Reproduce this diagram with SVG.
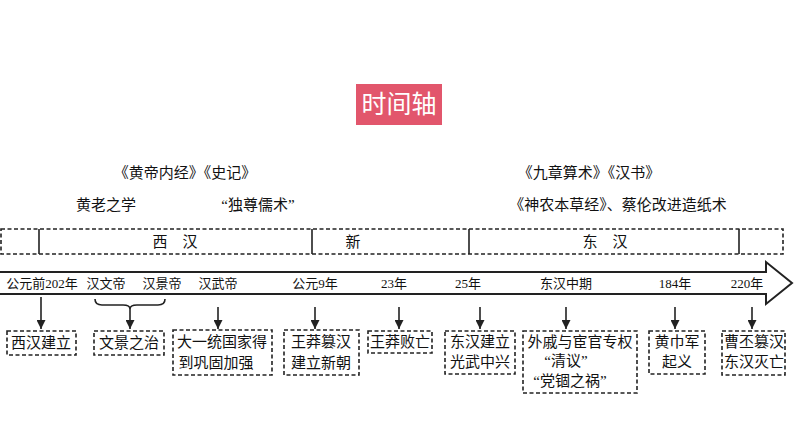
<svg xmlns="http://www.w3.org/2000/svg" width="794" height="447" viewBox="0 0 794 447">
<style>
text{font-family:"Liberation Serif","Noto Sans CJK SC",serif;font-size:15px;fill:#111;text-anchor:middle}
.ax{font-size:13px}
.box{fill:#fff;stroke:#222;stroke-width:1.6;stroke-dasharray:4 2.5}
.ln{stroke:#222;stroke-width:1.6;fill:none}
</style>
<defs>
<marker id="a" viewBox="0 0 10 10" refX="10" refY="5" markerWidth="9" markerHeight="9" orient="auto" markerUnits="userSpaceOnUse"><path d="M0,0 L10,5 L0,10 Z" fill="#222"/></marker></defs>
<rect width="794" height="447" fill="#fff"/>
<g id="title"><rect x="356" y="84" width="86" height="41" fill="#e2566c"/><text x="399" y="113" style="fill:#fff;font-size:25px;font-family:'Noto Sans CJK SC',sans-serif">时间轴</text></g>
<g id="top-texts">
<text x="185" y="178">《黄帝内经》《史记》</text>
<text x="106" y="210">黄老之学</text>
<text x="258" y="210">“独尊儒术”</text>
<text x="589" y="178">《九章算术》《汉书》</text>
<text x="618" y="210">《神农本草经》、蔡伦改进造纸术</text>
</g>
<g id="periods">
<rect class="box" x="1" y="229" width="782" height="25"/>
<path class="ln" d="M39,229V254M312,229V254M469,229V254M739,229V254"/>
<text x="175" y="247">西　汉</text><text x="353" y="247">新</text><text x="605" y="247">东　汉</text>
</g>
<g id="axis">
<path d="M0,272H766V262L792,283L766,304V294H0" fill="#fff" stroke="#222" stroke-width="2"/>
<text class="ax" x="42" y="288">公元前202年</text>
<text class="ax" x="106" y="288">汉文帝</text>
<text class="ax" x="162" y="288">汉景帝</text>
<text class="ax" x="218" y="288">汉武帝</text>
<text class="ax" x="315" y="288">公元9年</text>
<text class="ax" x="394" y="288">23年</text>
<text class="ax" x="468" y="288">25年</text>
<text class="ax" x="566" y="288">东汉中期</text>
<text class="ax" x="675" y="288">184年</text>
<text class="ax" x="747" y="288">220年</text>
</g>
<g id="connectors">
<path class="ln" marker-end="url(#a)" d="M41,297V329"/>
<path class="ln" d="M95,299Q95,305 102,305H123Q130,305 130,309Q130,305 137,305H158Q165,305 165,299"/>
<path class="ln" marker-end="url(#a)" d="M130,309V329"/>
<path class="ln" marker-end="url(#a)" d="M218,307V329"/>
<path class="ln" marker-end="url(#a)" d="M315,307V329"/>
<path class="ln" marker-end="url(#a)" d="M399,307V329"/>
<path class="ln" marker-end="url(#a)" d="M480,307V329"/>
<path class="ln" marker-end="url(#a)" d="M566,307V329"/>
<path class="ln" marker-end="url(#a)" d="M675,307V329"/>
<path class="ln" marker-end="url(#a)" d="M752,307V329"/>
</g>
<g id="n1"><rect class="box" x="7" y="331" width="69" height="24"/><text x="41" y="348">西汉建立</text></g>
<g id="n2"><rect class="box" x="94" y="331" width="70" height="24"/><text x="129" y="348">文景之治</text></g>
<g id="n3"><rect class="box" x="173" y="330" width="99" height="45"/><text x="222" y="347">大一统国家得</text><text x="216" y="368">到巩固加强</text></g>
<g id="n4"><rect class="box" x="284" y="330" width="75" height="45"/><text x="321" y="347">王莽篡汉</text><text x="321" y="368">建立新朝</text></g>
<g id="n5"><rect class="box" x="368" y="331" width="64" height="22"/><text x="400" y="347">王莽败亡</text></g>
<g id="n6"><rect class="box" x="445" y="331" width="70" height="43"/><text x="480" y="347">东汉建立</text><text x="480" y="367">光武中兴</text></g>
<g id="n7"><rect class="box" x="523" y="331" width="114" height="62"/><text x="580" y="347">外戚与宦官专权</text><text x="566" y="366">“清议”</text><text x="570" y="386">“党锢之祸”</text></g>
<g id="n8"><rect class="box" x="649" y="331" width="56" height="43"/><text x="677" y="347">黄巾军</text><text x="677" y="367">起义</text></g>
<g id="n9"><rect class="box" x="722" y="331" width="63" height="44"/><text x="754" y="347">曹丕篡汉</text><text x="754" y="367">东汉灭亡</text></g>
</svg>
